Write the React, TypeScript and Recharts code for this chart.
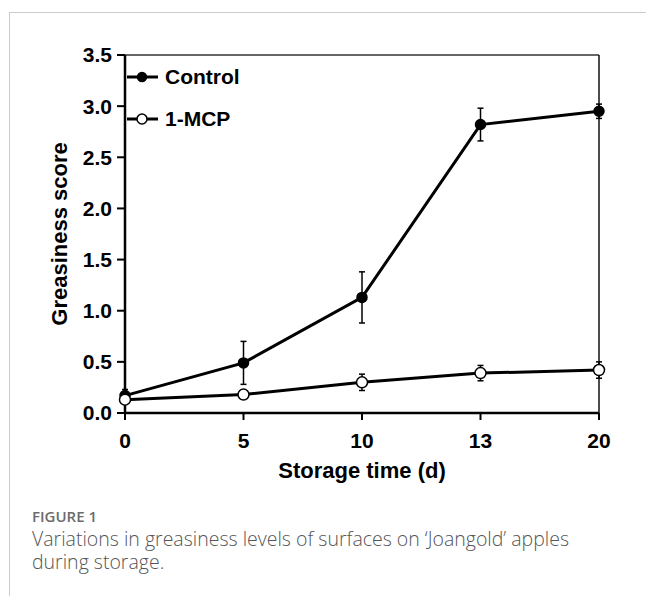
import { LineChart, Line, XAxis, YAxis, ErrorBar, ReferenceLine } from 'recharts';

const days = ['0', '5', '10', '13', '20'];
const controlScore = [0.17, 0.49, 1.13, 2.82, 2.95];
const controlErr = [0.06, 0.21, 0.25, 0.16, 0.07];
const mcpScore = [0.13, 0.18, 0.3, 0.39, 0.42];
const mcpErr = [0.02, 0.02, 0.08, 0.075, 0.08];
const yTicks = [0, 0.5, 1, 1.5, 2, 2.5, 3, 3.5];

const data = days.map((d, i) => ({
  day: d,
  control: controlScore[i],
  controlErr: controlErr[i],
  mcp: mcpScore[i],
  mcpErr: mcpErr[i],
}));

const fontFamily = 'Arial, "Liberation Sans", Helvetica, sans-serif';

const LegendRow = ({ top, filled, label }: { top: number; filled: boolean; label: string }) => (
  <div style={{ position: 'absolute', left: 126, top: top - 14, height: 28, display: 'flex', alignItems: 'center' }}>
    <svg width={34} height={28}>
      <line x1={1} y1={14} x2={32} y2={14} stroke="#000" strokeWidth={3} />
      <circle cx={16} cy={14} r={filled ? 4.5 : 5} fill={filled ? '#000' : '#fff'} stroke="#000" strokeWidth={1.5} />
    </svg>
    <span style={{ marginLeft: 5, fontFamily, fontWeight: 700, fontSize: 21, color: '#000', lineHeight: '28px' }}>{label}</span>
  </div>
);

const App = () => {
  return (
    <div style={{ position: 'absolute', left: 0, top: 0, width: 646, height: 596, background: '#fff', overflow: 'hidden' }}>
      <div style={{ position: 'absolute', left: 9, top: 12, width: 700, height: 700, borderLeft: '1px solid #ccc', borderTop: '1px solid #ccc' }} />
      <div style={{ position: 'absolute', left: 0, top: 0 }}>
        <LineChart width={646} height={500} data={data} margin={{ top: 55, right: 47, left: 45, bottom: 17 }}>
          <XAxis
            dataKey="day"
            type="category"
            height={70}
            padding={{ left: 0, right: 0 }}
            axisLine={{ stroke: '#000', strokeWidth: 2.5 }}
            tickLine={{ stroke: '#000', strokeWidth: 2 }}
            tickSize={7}
            tickMargin={13}
            tick={{ fill: '#000', fontSize: 21, fontWeight: 700, fontFamily }}
            label={{ value: 'Storage time (d)', position: 'insideBottom', offset: 5, fill: '#000', fontSize: 22, fontWeight: 700, fontFamily }}
          />
          <YAxis
            type="number"
            domain={[0, 3.5]}
            ticks={yTicks}
            width={80}
            interval={0}
            allowDataOverflow
            axisLine={{ stroke: '#000', strokeWidth: 2.5 }}
            tickLine={{ stroke: '#000', strokeWidth: 2 }}
            tickSize={8}
            tickMargin={5}
            tickFormatter={(v: number) => v.toFixed(1)}
            tick={{ fill: '#000', fontSize: 21, fontWeight: 700, fontFamily }}
            label={{ value: 'Greasiness score', angle: -90, position: 'insideLeft', offset: 14, fill: '#000', fontSize: 22, fontWeight: 700, fontFamily, style: { textAnchor: 'middle' } }}
          />
          <ReferenceLine y={3.5} stroke="#333" strokeWidth={1.5} />
          <ReferenceLine x="20" stroke="#111" strokeWidth={1.5} />
          <Line
            dataKey="control"
            stroke="#000"
            strokeWidth={3}
            isAnimationActive={false}
            dot={{ r: 5, fill: '#000', stroke: '#000', strokeWidth: 1.5 }}
            activeDot={false}
          >
            <ErrorBar dataKey="controlErr" direction="y" width={3} stroke="#000" strokeWidth={1.5} />
          </Line>
          <Line
            dataKey="mcp"
            stroke="#000"
            strokeWidth={3}
            isAnimationActive={false}
            dot={{ r: 5.5, fill: '#fff', stroke: '#000', strokeWidth: 1.5 }}
            activeDot={false}
          >
            <ErrorBar dataKey="mcpErr" direction="y" width={3} stroke="#000" strokeWidth={1.5} />
          </Line>
        </LineChart>
        <LegendRow top={77} filled label="Control" />
        <LegendRow top={119} filled={false} label="1-MCP" />
      </div>
      <div style={{ position: 'absolute', left: 32, top: 505, width: 585, fontFamily: '"Open Sans", "Noto Sans", sans-serif', color: '#666' }}>
        <div style={{ fontSize: 15, fontWeight: 600, lineHeight: '22px', color: '#6b6b6b' }}>FIGURE 1</div>
        <div style={{ fontSize: 19.5, fontWeight: 300, lineHeight: '23px', color: '#555' }}>
          Variations in greasiness levels of surfaces on ‘Joangold’ apples during storage.
        </div>
      </div>
    </div>
  );
};

export default App;
